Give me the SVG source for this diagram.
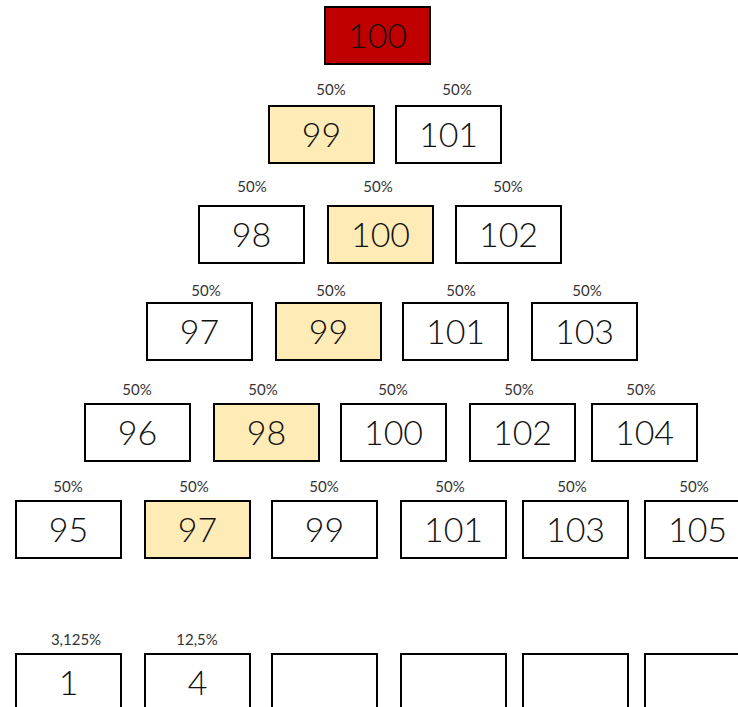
<svg xmlns="http://www.w3.org/2000/svg" width="738" height="707" viewBox="0 0 738 707">
<style>
.box rect{stroke:#000;stroke-width:2;fill:#fff}
.box.hl rect{fill:#FFEBB5}
.box.root rect{fill:#C00000}
.num{font-family:"Lato","Liberation Sans",sans-serif;font-weight:300;font-size:34px;fill:#111;text-anchor:middle}
.pct{font-family:"Lato","Liberation Sans",sans-serif;font-weight:400;font-size:15px;fill:#333;text-anchor:middle}
</style>
<rect width="738" height="707" fill="#fff"/>
<g id="r0n0" class="box root"><rect x="325" y="7" width="105" height="57"/><text class="num" x="377.5" y="48">100</text></g>

<g id="r1n0" class="box hl"><text class="pct" x="331" y="95">50%</text><rect x="269" y="106" width="105" height="57"/><text class="num" x="321.5" y="147">99</text></g>
<g id="r1n1" class="box"><text class="pct" x="457" y="95">50%</text><rect x="396" y="106" width="105" height="57"/><text class="num" x="448.5" y="147">101</text></g>

<g id="r2n0" class="box"><text class="pct" x="252" y="192">50%</text><rect x="199" y="206" width="105" height="57"/><text class="num" x="251.5" y="247">98</text></g>
<g id="r2n1" class="box hl"><text class="pct" x="378" y="192">50%</text><rect x="328" y="206" width="105" height="57"/><text class="num" x="380.5" y="247">100</text></g>
<g id="r2n2" class="box"><text class="pct" x="508" y="192">50%</text><rect x="456" y="206" width="105" height="57"/><text class="num" x="508.5" y="247">102</text></g>

<g id="r3n0" class="box"><text class="pct" x="206" y="296">50%</text><rect x="147" y="303" width="105" height="57"/><text class="num" x="199.5" y="344">97</text></g>
<g id="r3n1" class="box hl"><text class="pct" x="331" y="296">50%</text><rect x="276" y="303" width="105" height="57"/><text class="num" x="328.5" y="344">99</text></g>
<g id="r3n2" class="box"><text class="pct" x="461" y="296">50%</text><rect x="403" y="303" width="105" height="57"/><text class="num" x="455.5" y="344">101</text></g>
<g id="r3n3" class="box"><text class="pct" x="587" y="296">50%</text><rect x="532" y="303" width="105" height="57"/><text class="num" x="584.5" y="344">103</text></g>

<g id="r4n0" class="box"><text class="pct" x="137" y="395">50%</text><rect x="85" y="404" width="105" height="57"/><text class="num" x="137.5" y="445">96</text></g>
<g id="r4n1" class="box hl"><text class="pct" x="263" y="395">50%</text><rect x="214" y="404" width="105" height="57"/><text class="num" x="266.5" y="445">98</text></g>
<g id="r4n2" class="box"><text class="pct" x="393" y="395">50%</text><rect x="341" y="404" width="105" height="57"/><text class="num" x="393.5" y="445">100</text></g>
<g id="r4n3" class="box"><text class="pct" x="519" y="395">50%</text><rect x="470" y="404" width="105" height="57"/><text class="num" x="522.5" y="445">102</text></g>
<g id="r4n4" class="box"><text class="pct" x="641" y="395">50%</text><rect x="592" y="404" width="105" height="57"/><text class="num" x="644.5" y="445">104</text></g>

<g id="r5n0" class="box"><text class="pct" x="68" y="492">50%</text><rect x="16" y="501" width="105" height="57"/><text class="num" x="68.5" y="542">95</text></g>
<g id="r5n1" class="box hl"><text class="pct" x="194" y="492">50%</text><rect x="145" y="501" width="105" height="57"/><text class="num" x="197.5" y="542">97</text></g>
<g id="r5n2" class="box"><text class="pct" x="324" y="492">50%</text><rect x="272" y="501" width="105" height="57"/><text class="num" x="324.5" y="542">99</text></g>
<g id="r5n3" class="box"><text class="pct" x="450" y="492">50%</text><rect x="401" y="501" width="105" height="57"/><text class="num" x="453.5" y="542">101</text></g>
<g id="r5n4" class="box"><text class="pct" x="572" y="492">50%</text><rect x="523" y="501" width="105" height="57"/><text class="num" x="575.5" y="542">103</text></g>
<g id="r5n5" class="box"><text class="pct" x="694" y="492">50%</text><rect x="645" y="501" width="105" height="57"/><text class="num" x="697.5" y="542">105</text></g>

<g id="r6n0" class="box"><text class="pct" x="76" y="645">3,125%</text><rect x="16" y="654" width="105" height="57"/><text class="num" x="68.5" y="695">1</text></g>
<g id="r6n1" class="box"><text class="pct" x="197" y="645">12,5%</text><rect x="145" y="654" width="105" height="57"/><text class="num" x="197.5" y="695">4</text></g>
<g id="r6n2" class="box"><rect x="272" y="654" width="105" height="57"/></g>
<g id="r6n3" class="box"><rect x="401" y="654" width="105" height="57"/></g>
<g id="r6n4" class="box"><rect x="523" y="654" width="105" height="57"/></g>
<g id="r6n5" class="box"><rect x="645" y="654" width="105" height="57"/></g>
<g id="connectors"></g>
</svg>
